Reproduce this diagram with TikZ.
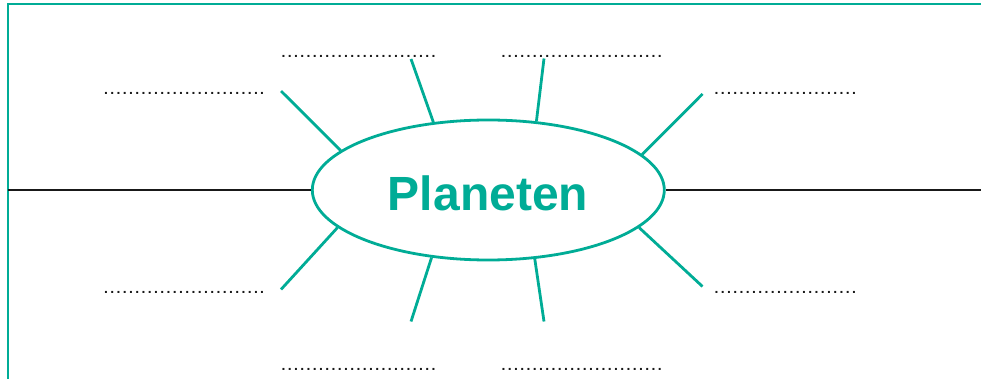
\documentclass[tikz,border=0pt]{standalone}
\usepackage{fontspec}
\setmainfont{Liberation Sans}
\definecolor{teal1}{RGB}{0,172,150}
\definecolor{dotgray}{RGB}{25,25,25}
\newcommand\dotrow[1]{\foreach \i in {1,...,#1}{.\kern2.35pt}}
\tikzset{
  spoke/.style={draw=teal1, line width=2.8pt},
  axisline/.style={draw=black!90, line width=2.2pt},
  dotlabel/.style={anchor=base west, inner sep=0pt, font=\fontsize{14}{14}\selectfont\bfseries, text=dotgray},
  planetbox/.style={ellipse, draw=teal1, line width=2.8pt, minimum width=352pt, minimum height=140pt, inner sep=0pt, fill=white},
}
\usetikzlibrary{shapes.geometric}
\begin{document}
\begin{tikzpicture}[x=1pt, y=-1pt]
\useasboundingbox (0,0) rectangle (981,379);
% frame
\coordinate (fbl) at (8,380);
\coordinate (ftl) at (8,4);
\coordinate (ftr) at (982,4);
\draw[teal1, line width=1.3pt] (fbl) -- (ftl) -- (ftr);
% centre
\node[planetbox] (planet) at (488.3,190) {};
\node[anchor=base, inner sep=0pt, text=teal1, font=\fontsize{48}{48}\selectfont\bfseries] (title) at (488,211) {Planeten};
% horizontal line
\coordinate (lstart) at (8,190);
\coordinate (rend) at (982,190);
\draw[axisline] (lstart) -- (planet.west);
\draw[axisline] (planet.east) -- (rend);
% spoke outer ends
\coordinate (o1) at (281,91);
\coordinate (o2) at (411,59);
\coordinate (o3) at (544,58.5);
\coordinate (o4) at (702.5,94);
\coordinate (o5) at (281,289.5);
\coordinate (o6) at (411,321.5);
\coordinate (o7) at (544,321.5);
\coordinate (o8) at (702.5,286.5);
\draw[spoke] (o1) -- (planet.165.6);
\draw[spoke] (o2) -- (planet.129.8);
\draw[spoke] (o3) -- (planet.55.3);
\draw[spoke] (o4) -- (planet.13.5);
\draw[spoke] (o5) -- (planet.194.4);
\draw[spoke] (o6) -- (planet.230.2);
\draw[spoke] (o7) -- (planet.304.7);
\draw[spoke] (o8) -- (planet.346.5);
% dotted labels
\node[dotlabel] (d1) at (104,94.5) {\dotrow{26}};
\node[dotlabel] (d2) at (281.5,57.5) {\dotrow{25}};
\node[dotlabel] (d3) at (501.5,57.5) {\dotrow{26}};
\node[dotlabel] (d4) at (714.5,94.5) {\dotrow{23}};
\node[dotlabel] (d5) at (104,293.5) {\dotrow{26}};
\node[dotlabel] (d6) at (281.5,370.5) {\dotrow{25}};
\node[dotlabel] (d7) at (501.5,370.5) {\dotrow{26}};
\node[dotlabel] (d8) at (714.5,293.5) {\dotrow{23}};
\end{tikzpicture}
\end{document}
